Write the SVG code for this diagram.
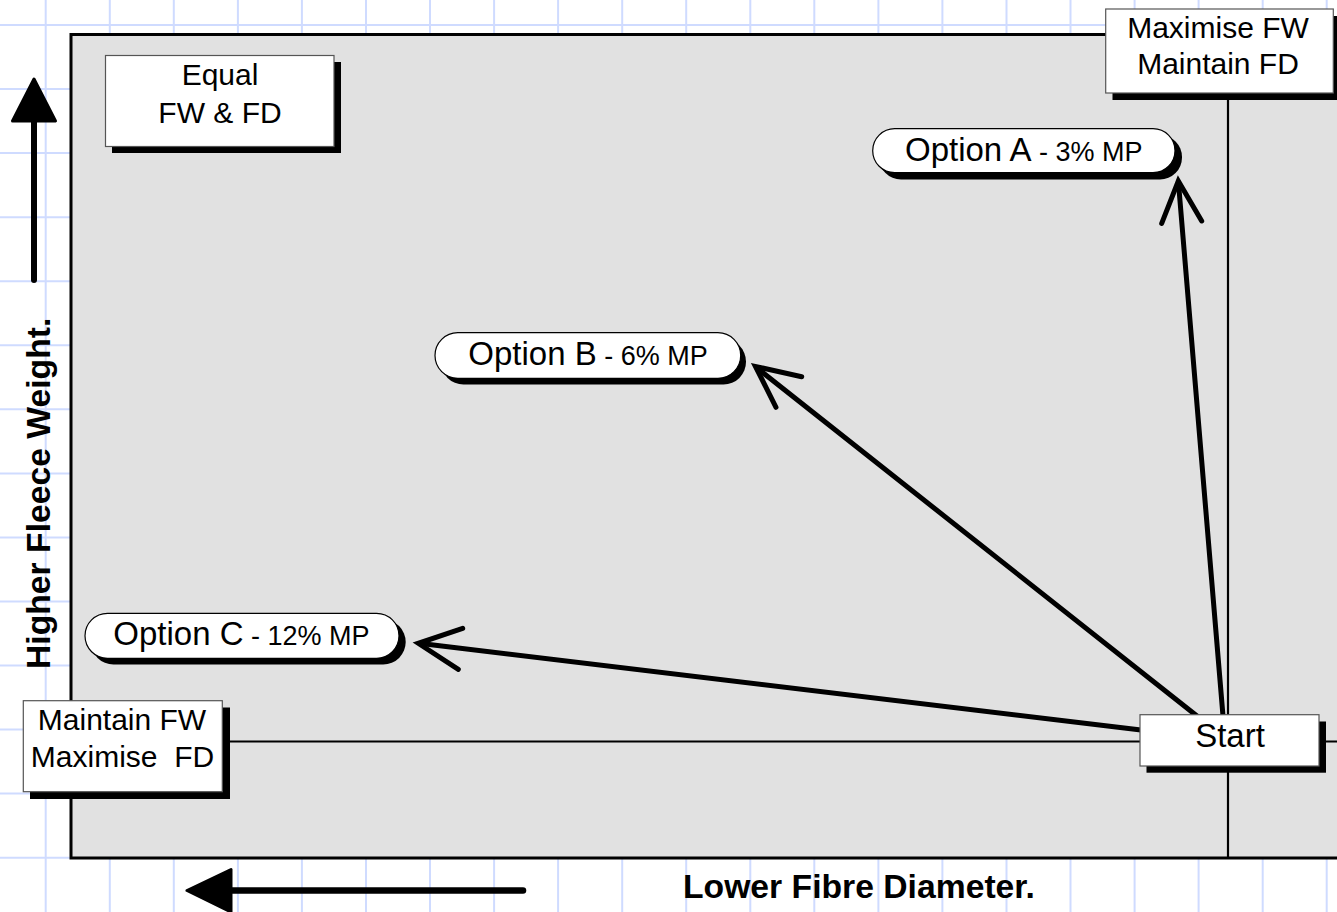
<svg xmlns="http://www.w3.org/2000/svg" width="1337" height="912" viewBox="0 0 1337 912">
<defs>
<style>
.grid line{stroke:#cfdbff;stroke-width:2}
.box{fill:#ffffff;stroke:#555555;stroke-width:1.2}
.pill{fill:#ffffff;stroke:#000000;stroke-width:1.2}
.shadow{fill:#000000}
.t{font-family:"Liberation Sans",Arial,sans-serif;font-size:30px;fill:#000000}
.big{font-family:"Liberation Sans",Arial,sans-serif;font-size:33px;fill:#000000}
.small{font-size:27px}
.bold{font-family:"Liberation Sans",Arial,sans-serif;font-size:33.7px;font-weight:bold;fill:#000000}
.conn{stroke:#000000;stroke-width:5;stroke-linecap:round;stroke-linejoin:miter;fill:none}
.axis{stroke:#000000;stroke-width:2.2;fill:none}
</style>
</defs>
<rect x="0" y="0" width="1337" height="912" fill="#ffffff"/>
<g class="grid">
<line x1="45.7" y1="0" x2="45.7" y2="912"/><line x1="109.8" y1="0" x2="109.8" y2="912"/><line x1="173.8" y1="0" x2="173.8" y2="912"/><line x1="237.9" y1="0" x2="237.9" y2="912"/><line x1="301.9" y1="0" x2="301.9" y2="912"/><line x1="366" y1="0" x2="366" y2="912"/><line x1="430" y1="0" x2="430" y2="912"/><line x1="494.1" y1="0" x2="494.1" y2="912"/><line x1="558.1" y1="0" x2="558.1" y2="912"/><line x1="622.2" y1="0" x2="622.2" y2="912"/><line x1="686.2" y1="0" x2="686.2" y2="912"/><line x1="750.3" y1="0" x2="750.3" y2="912"/><line x1="814.3" y1="0" x2="814.3" y2="912"/><line x1="878.4" y1="0" x2="878.4" y2="912"/><line x1="942.4" y1="0" x2="942.4" y2="912"/><line x1="1006.5" y1="0" x2="1006.5" y2="912"/><line x1="1070.5" y1="0" x2="1070.5" y2="912"/><line x1="1134.6" y1="0" x2="1134.6" y2="912"/><line x1="1198.6" y1="0" x2="1198.6" y2="912"/><line x1="1262.7" y1="0" x2="1262.7" y2="912"/><line x1="1326.7" y1="0" x2="1326.7" y2="912"/>
<line x1="0" y1="25" x2="1337" y2="25"/><line x1="0" y1="89" x2="1337" y2="89"/><line x1="0" y1="153.1" x2="1337" y2="153.1"/><line x1="0" y1="217.2" x2="1337" y2="217.2"/><line x1="0" y1="281.2" x2="1337" y2="281.2"/><line x1="0" y1="345.3" x2="1337" y2="345.3"/><line x1="0" y1="409.3" x2="1337" y2="409.3"/><line x1="0" y1="473.4" x2="1337" y2="473.4"/><line x1="0" y1="537.4" x2="1337" y2="537.4"/><line x1="0" y1="601.5" x2="1337" y2="601.5"/><line x1="0" y1="665.5" x2="1337" y2="665.5"/><line x1="0" y1="729.6" x2="1337" y2="729.6"/><line x1="0" y1="793.6" x2="1337" y2="793.6"/><line x1="0" y1="857.7" x2="1337" y2="857.7"/>
</g>
<g id="plot-area">
<rect x="71" y="34.5" width="1290" height="823.5" fill="#e1e1e1" stroke="#000000" stroke-width="3"/>
<line class="axis" x1="1228" y1="93" x2="1228" y2="858"/>
<line class="axis" x1="222" y1="741.5" x2="1337" y2="741.5"/>
</g>
<g id="axis-y">
<line x1="34" y1="280" x2="34" y2="115" stroke="#000000" stroke-width="6" stroke-linecap="round"/>
<polygon points="34,79 55.5,121 12.5,121" fill="#000000" stroke="#000000" stroke-width="3" stroke-linejoin="round"/>
<text class="bold" transform="translate(50,669) rotate(-90)">Higher Fleece Weight.</text>
</g>
<g id="axis-x">
<line x1="523" y1="890.5" x2="225" y2="890.5" stroke="#000000" stroke-width="6.5" stroke-linecap="round"/>
<polygon points="187,890.5 231,869.5 231,912" fill="#000000" stroke="#000000" stroke-width="3" stroke-linejoin="round"/>
<text class="bold" x="683" y="898">Lower Fibre Diameter.</text>
</g>
<g id="connectors">
<line class="conn" x1="1223" y1="716" x2="1178.5" y2="183"/>
<polyline class="conn" points="1161.7,223.3 1178.3,181 1201.7,221"/>
<line class="conn" x1="1197" y1="716" x2="757" y2="368"/>
<polyline class="conn" points="801.7,376.7 755.5,366.5 776,407.3"/>
<line class="conn" x1="1141" y1="730" x2="421" y2="643.5"/>
<polyline class="conn" points="462.7,628.3 418.3,643.3 458.3,669.3"/>
</g>
<g id="node-equal">
<rect class="shadow" x="112" y="62" width="229" height="91"/>
<rect class="box" x="105.5" y="55.5" width="228.5" height="91"/>
<text class="t" x="220" y="85" text-anchor="middle">Equal</text>
<text class="t" x="220" y="122.5" text-anchor="middle">FW &amp; FD</text>
</g>
<g id="node-maximise-fw">
<rect class="shadow" x="1112.5" y="16" width="228" height="84"/>
<rect class="box" x="1105.7" y="9" width="227.6" height="84"/>
<text class="t" x="1218" y="37.5" text-anchor="middle">Maximise FW</text>
<text class="t" x="1218" y="74" text-anchor="middle">Maintain FD</text>
</g>
<g id="node-maintain-fw">
<rect class="shadow" x="30" y="707.5" width="200" height="91.5"/>
<rect class="box" x="23.3" y="700.7" width="199" height="91"/>
<text class="t" x="122" y="729.5" text-anchor="middle">Maintain FW</text>
<text class="t" x="122.5" y="767" text-anchor="middle" xml:space="preserve">Maximise  FD</text>
</g>
<g id="node-start">
<rect class="shadow" x="1146.5" y="721.5" width="179.5" height="51.2"/>
<rect class="box" x="1140" y="714.7" width="179" height="51.3"/>
<text class="big" x="1230" y="747" text-anchor="middle">Start</text>
</g>
<g id="node-option-a">
<rect class="shadow" x="879" y="135" width="303" height="44.5" rx="22"/>
<rect class="pill" x="872.7" y="128.7" width="302.3" height="44" rx="22"/>
<text class="big" x="905" y="160.7">Option A<tspan class="small"> - 3% MP</tspan></text>
</g>
<g id="node-option-b">
<rect class="shadow" x="441" y="339" width="305" height="45.5" rx="22.5"/>
<rect class="pill" x="435" y="332.7" width="305.7" height="45.6" rx="22.8"/>
<text class="big" x="468.3" y="364.5">Option B<tspan class="small"> - 6% MP</tspan></text>
</g>
<g id="node-option-c">
<rect class="shadow" x="91" y="619.5" width="314.7" height="45" rx="22.5"/>
<rect class="pill" x="85" y="613.3" width="314" height="45" rx="22.5"/>
<text class="big" x="113.3" y="645">Option C<tspan class="small"> - 12% MP</tspan></text>
</g>
</svg>
